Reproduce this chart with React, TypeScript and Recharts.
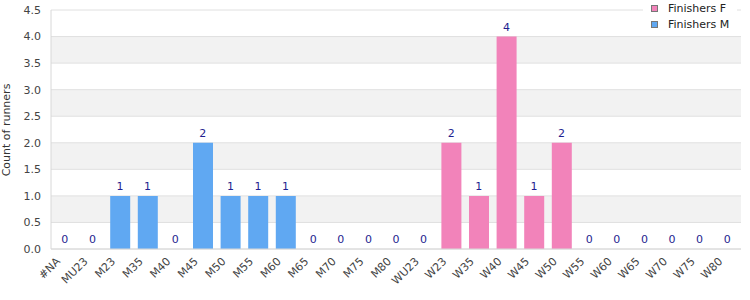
import { ComposedChart, Bar, Scatter, XAxis, YAxis, CartesianGrid, Legend, Cell } from "recharts";

const categories = [
  "#NA", "MU23", "M23", "M35", "M40", "M45", "M50", "M55", "M60", "M65", "M70", "M75", "M80",
  "WU23", "W23", "W35", "W40", "W45", "W50", "W55", "W60", "W65", "W70", "W75", "W80",
];
// one value per category; null where the other series owns the category
const finishersM = [0, 0, 1, 1, 0, 2, 1, 1, 1, 0, 0, 0, 0, null, null, null, null, null, null, null, null, null, null, null, null];
const finishersF = [null, null, null, null, null, null, null, null, null, null, null, null, null, 0, 2, 1, 4, 1, 2, 0, 0, 0, 0, 0, 0];
const yTicks = [0, 0.5, 1, 1.5, 2, 2.5, 3, 3.5, 4, 4.5];

const COLOR_F = "#f283ba";
const COLOR_M = "#60a8f2";
const FONT = "'DejaVu Sans', Verdana, sans-serif";

const data = categories.map((category, i) => {
  const m = finishersM[i];
  const f = finishersF[i];
  return { category, count: m ?? f ?? 0, series: m != null ? "M" : "F" };
});

function AgeTick({ x, y, payload }: any) {
  return (
    <g transform={`translate(${x - 4},${y + 13})`}>
      <text textAnchor="end" transform="rotate(-45)" fontSize={11} fill="#444" fontFamily={FONT}>
        {payload.value}
      </text>
    </g>
  );
}

function YTitle() {
  return (
    <text x={10} y={130} transform="rotate(-90 10 130)" textAnchor="middle" fontSize={11} fill="#333" fontFamily={FONT}>
      Count of runners
    </text>
  );
}

// value label drawn above the top of each bar (also for zero bars)
function ValueLabel({ cx, cy, payload }: any) {
  if (cx == null || cy == null) return null;
  return (
    <text x={cx} y={cy - 6} textAnchor="middle" fontSize={11} fill="#1f1f90" fontFamily={FONT}>
      {payload.count}
    </text>
  );
}

function LegendBox() {
  const items = [
    { label: "Finishers F", color: COLOR_F },
    { label: "Finishers M", color: COLOR_M },
  ];
  return (
    <div style={{ background: "#fff", width: 94, height: 33, paddingLeft: 8, boxSizing: "border-box", fontFamily: FONT, fontSize: 11, color: "#222" }}>
      {items.map((it) => (
        <div key={it.label} style={{ display: "flex", alignItems: "center", height: 16 }}>
          <span style={{ width: 7, height: 7, background: it.color, border: "1px solid #777", boxSizing: "border-box", marginRight: 10 }} />
          {it.label}
        </div>
      ))}
    </div>
  );
}

export default function App() {
  return (
    <div style={{ position: "absolute", left: 0, top: 0 }}>
      <ComposedChart width={750} height={300} data={data} margin={{ top: 10, right: 9, bottom: 0, left: 0 }}>
        <CartesianGrid vertical={false} stroke="#e0e0e0" horizontalFill={["#ffffff", "#f2f2f2"]} fillOpacity={1} yAxisId="left" />
        <XAxis
          dataKey="category"
          interval={0}
          height={51}
          tickSize={0}
          tickMargin={0}
          tick={<AgeTick />}
          axisLine={{ stroke: "#d8d8d8" }}
          tickLine={false}
        />
        <YAxis
          yAxisId="left"
          width={51}
          domain={[0, 4.5]}
          ticks={yTicks}
          tickFormatter={(v: number) => v.toFixed(1)}
          tickLine={false}
          tickSize={0}
          tickMargin={10}
          axisLine={{ stroke: "#d8d8d8" }}
          tick={{ fontSize: 11, fill: "#444", fontFamily: FONT }}
          label={<YTitle />}
        />
        <YAxis yAxisId="right" orientation="right" width={0} tick={false} tickLine={false} axisLine={{ stroke: "#d8d8d8" }} domain={[0, 4.5]} />
        <Legend
          layout="vertical"
          align="center"
          verticalAlign="middle"
          wrapperStyle={{ top: 0, left: 643, width: 94 }}
          content={<LegendBox />}
        />
        <Bar yAxisId="left" dataKey="count" barSize={20} isAnimationActive={false}>
          {data.map((d) => (
            <Cell key={d.category} fill={d.series === "M" ? COLOR_M : COLOR_F} />
          ))}
        </Bar>
        <Scatter yAxisId="left" dataKey="count" shape={<ValueLabel />} isAnimationActive={false} legendType="none" />
      </ComposedChart>
    </div>
  );
}
